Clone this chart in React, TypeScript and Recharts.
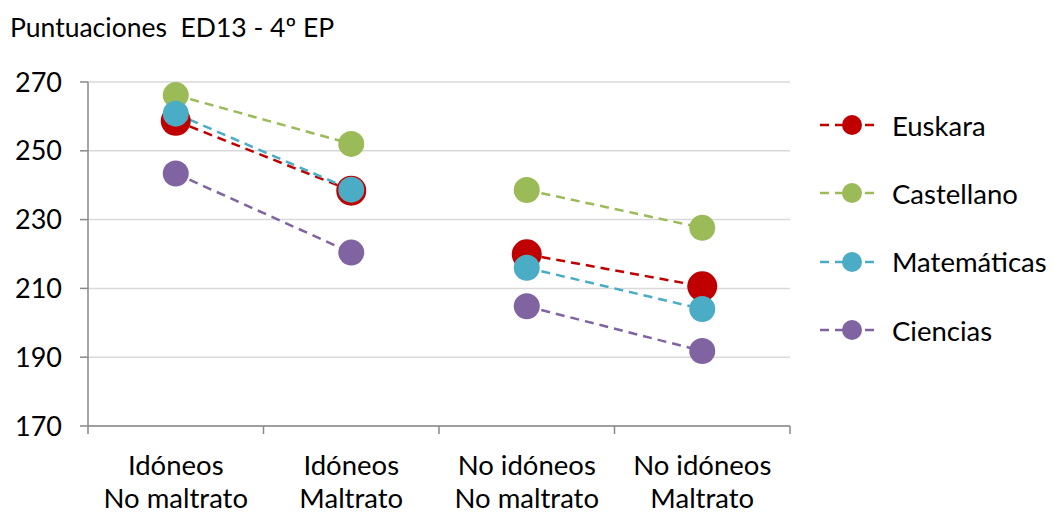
import React from 'react';
import { LineChart, Line, XAxis, YAxis, CartesianGrid } from 'recharts';

// categories (two-line labels) and scores
const categories = [
  ['Idóneos', 'No maltrato'],
  ['Idóneos', 'Maltrato'],
  ['No idóneos', 'No maltrato'],
  ['No idóneos', 'Maltrato'],
];
const groupOf = [0, 0, 1, 1]; // lines only join points in the same group

const euskara = [258.7, 238.4, 219.9, 210.6];
const castellano = [266.2, 252.0, 238.6, 227.6];
const matematicas = [260.8, 238.7, 216.0, 204.0];
const ciencias = [243.4, 220.4, 204.8, 191.8];

const yTicks = [170, 190, 210, 230, 250, 270];
const xTicks = [0, 0.5, 1, 1.5, 2, 2.5, 3, 3.5, 4];

const series = [
  { key: 'euskara', name: 'Euskara', values: euskara, color: '#C00000', r: 15 },
  { key: 'castellano', name: 'Castellano', values: castellano, color: '#9BBB59', r: 13 },
  { key: 'matematicas', name: 'Matemáticas', values: matematicas, color: '#4BACC6', r: 13 },
  { key: 'ciencias', name: 'Ciencias', values: ciencias, color: '#8064A2', r: 13 },
];

const chartData = categories.map((c, i) => {
  const row: any = { x: i + 0.5 };
  series.forEach((s) => {
    [0, 1].forEach((g) => {
      row[`${s.key}_${g}`] = groupOf[i] === g ? s.values[i] : null;
    });
  });
  return row;
});

const FONT = 'Lato, "Open Sans", sans-serif';

const XTick = (props: any) => {
  const { x, y, payload } = props;
  const v = payload.value;
  if (Number.isInteger(v)) {
    return <line x1={x} x2={x} y1={y - 8} y2={y} stroke="#898989" strokeWidth={1.5} />;
  }
  const lbl = categories[Math.floor(v)];
  return (
    <text x={x} y={y} textAnchor="middle" fontSize={27.5} fontFamily={FONT} fill="#000">
      <tspan x={x} dy={41}>{lbl[0]}</tspan>
      <tspan x={x} dy={33}>{lbl[1]}</tspan>
    </text>
  );
};

const makeDot = (color: string, r: number) => (p: any) => {
  if (p.value == null || p.cy == null) return <g key={p.key} />;
  return <circle key={p.key} cx={p.cx} cy={p.cy} r={r} fill={color} stroke="none" />;
};

const LegendBox = () => (
  <div style={{ position: 'absolute', left: 812, top: 91, fontFamily: FONT, fontSize: 27.5 }}>
    {series.map((s) => (
      <div key={s.key} style={{ display: 'flex', alignItems: 'center', height: 68.3 }}>
        <svg width={80} height={24}>
          <line x1={8} x2={66} y1={12} y2={12} stroke={s.color} strokeWidth={2.5} strokeDasharray="9 6" />
          <circle cx={40} cy={12} r={10} fill={s.color} />
        </svg>
        <span style={{ color: '#000' }}>{s.name}</span>
      </div>
    ))}
  </div>
);

export default function App() {
  return (
    <div style={{ position: 'absolute', left: 0, top: 0, width: 1054, height: 514, background: '#fff' }}>
      <div style={{ position: 'absolute', left: 10, top: 11, fontFamily: FONT, fontSize: 26.5, color: '#000', whiteSpace: 'pre' }}>
        {'Puntuaciones  ED13 - 4º EP'}
      </div>
      <LineChart width={1054} height={514} data={chartData} margin={{ top: 82, right: 264, bottom: 0, left: 0 }}>
        <CartesianGrid vertical={false} stroke="#d9d9d9" strokeWidth={1.5} />
        <XAxis
          dataKey="x"
          type="number"
          domain={[0, 4]}
          ticks={xTicks}
          interval={0}
          tickLine={false}
          tick={<XTick />}
          height={88}
          tickSize={8}
          tickMargin={0}
          axisLine={{ stroke: '#898989', strokeWidth: 1.5 }}
        />
        <YAxis
          type="number"
          domain={[170, 270]}
          ticks={yTicks}
          interval={0}
          width={88}
          tickSize={8}
          tickMargin={18}
          tick={{ fontSize: 27, fontFamily: FONT, fill: '#000' }}
          axisLine={{ stroke: '#898989', strokeWidth: 1.5 }}
          tickLine={{ stroke: '#898989', strokeWidth: 1.5 }}
        />
        {series.map((s) =>
          [0, 1].map((g) => (
            <Line
              key={`${s.key}_${g}`}
              dataKey={`${s.key}_${g}`}
              name={s.name}
              stroke={s.color}
              strokeWidth={2.5}
              strokeDasharray="9 6"
              connectNulls={false}
              dot={makeDot(s.color, s.r)}
              activeDot={false}
              isAnimationActive={false}
            />
          ))
        )}
      </LineChart>
      <LegendBox />
    </div>
  );
}
